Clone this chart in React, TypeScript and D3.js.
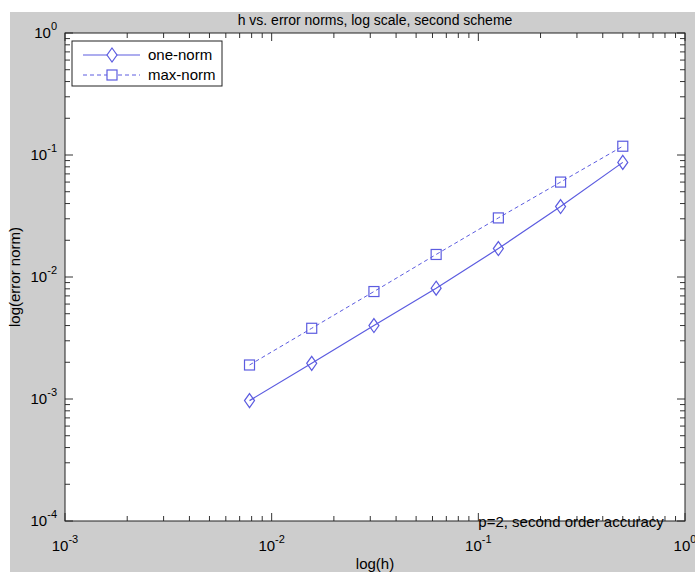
import React from "react";
import * as d3 from "d3";

const hValues = [0.0078125, 0.015625, 0.03125, 0.0625, 0.125, 0.25, 0.5];
const oneNorm = [0.00097, 0.00196, 0.0040, 0.0081, 0.0171, 0.0378, 0.087];
const maxNorm = [0.0019, 0.0038, 0.0076, 0.0153, 0.0305, 0.060, 0.118];
const xDecades = [-3, -2, -1, 0];
const yDecades = [-4, -3, -2, -1, 0];
const titleText = "h vs. error norms, log scale, second scheme";
const xLabel = "log(h)";
const yLabel = "log(error norm)";
const annotation = "p=2, second order accuracy";
const seriesNames = ["one-norm", "max-norm"];

const W = 695;
const H = 572;
const L = 65, R = 685, T = 33, B = 521;
const BLUE = "#5c5ce0";
const FONT = "'Liberation Sans', Arial, Helvetica, sans-serif";

function diamond(x: number, y: number) {
  const hw = 5, hh = 7;
  return `M${x},${y - hh}L${x + hw},${y}L${x},${y + hh}L${x - hw},${y}Z`;
}

export default function App() {
  const x = d3.scaleLog().domain([1e-3, 1]).range([L, R]);
  const y = d3.scaleLog().domain([1e-4, 1]).range([B, T]);

  const line = d3
    .line<[number, number]>()
    .x((d) => x(d[0]))
    .y((d) => y(d[1]));

  const onePts: [number, number][] = hValues.map((h, i) => [h, oneNorm[i]]);
  const maxPts: [number, number][] = hValues.map((h, i) => [h, maxNorm[i]]);

  const ticksX: { v: number; major: boolean }[] = [];
  for (let e = -3; e < 0; e++) for (let k = 1; k <= 9; k++) ticksX.push({ v: k * Math.pow(10, e), major: k === 1 });
  ticksX.push({ v: 1, major: true });
  const ticksY: { v: number; major: boolean }[] = [];
  for (let e = -4; e < 0; e++) for (let k = 1; k <= 9; k++) ticksY.push({ v: k * Math.pow(10, e), major: k === 1 });
  ticksY.push({ v: 1, major: true });

  const tickColor = "#333";
  const len = (m: boolean) => (m ? 8 : 5);

  const legX = 72, legY = 41, legW = 150, legH = 45;

  return (
    <svg
      width={W}
      height={H}
      style={{ position: "absolute", left: 0, top: 0 }}
      fontFamily={FONT}
    >
      <rect x={0} y={0} width={W} height={H} fill="#ffffff" />
      <rect x={10} y={12} width={W - 10} height={H - 12} fill="#cdcdcd" />
      <rect x={L} y={T} width={R - L} height={B - T} fill="#ffffff" />

      {/* ticks */}
      {ticksX.map((t, i) => (
        <g key={"mx" + i} stroke={tickColor} strokeWidth={1}>
          <line x1={x(t.v)} x2={x(t.v)} y1={B} y2={B - len(t.major)} />
          <line x1={x(t.v)} x2={x(t.v)} y1={T} y2={T + len(t.major)} />
        </g>
      ))}
      {ticksY.map((t, i) => (
        <g key={"my" + i} stroke={tickColor} strokeWidth={1}>
          <line x1={L} x2={L + len(t.major)} y1={y(t.v)} y2={y(t.v)} />
          <line x1={R} x2={R - len(t.major)} y1={y(t.v)} y2={y(t.v)} />
        </g>
      ))}

      {/* series */}
      <path d={line(maxPts) || ""} fill="none" stroke={BLUE} strokeWidth={1} strokeDasharray="4,3" />
      <path d={line(onePts) || ""} fill="none" stroke={BLUE} strokeWidth={1.2} />
      {maxPts.map((p, i) => (
        <rect key={"s" + i} x={x(p[0]) - 5} y={y(p[1]) - 5} width={10} height={10} fill="none" stroke={BLUE} strokeWidth={1.2} />
      ))}
      {onePts.map((p, i) => (
        <path key={"d" + i} d={diamond(x(p[0]), y(p[1]))} fill="none" stroke={BLUE} strokeWidth={1.2} />
      ))}

      {/* frame */}
      <rect x={L} y={T} width={R - L} height={B - T} fill="none" stroke="#222" strokeWidth={1} />

      {/* tick labels */}
      {xDecades.map((e) => (
        <text key={"xl" + e} x={x(Math.pow(10, e))} y={551} textAnchor="middle" fontSize={15} fill="#000">
          10
          <tspan dy={-8} fontSize={11}>{e}</tspan>
        </text>
      ))}
      {yDecades.map((e) => (
        <text key={"yl" + e} x={L - 8} y={y(Math.pow(10, e)) + 5} textAnchor="end" fontSize={15} fill="#000">
          10
          <tspan dy={-8} fontSize={11}>{e}</tspan>
        </text>
      ))}

      {/* title & labels */}
      <text x={(L + R) / 2} y={25} textAnchor="middle" fontSize={14} fill="#000">{titleText}</text>
      <text x={(L + R) / 2} y={569} textAnchor="middle" fontSize={15} fill="#000">{xLabel}</text>
      <text transform={`translate(20,${(T + B) / 2}) rotate(-90)`} textAnchor="middle" fontSize={15} fill="#000">{yLabel}</text>
      <text x={x(0.1)} y={527} fontSize={15} fill="#000">{annotation}</text>

      {/* legend */}
      <rect x={legX} y={legY} width={legW} height={legH} fill="#fff" stroke="#222" strokeWidth={1} />
      <line x1={83} x2={140} y1={55} y2={55} stroke={BLUE} strokeWidth={1.2} />
      <path d={diamond(112, 55)} fill="#fff" stroke={BLUE} strokeWidth={1.2} />
      <text x={148} y={60} fontSize={15} fill="#000">{seriesNames[0]}</text>
      <line x1={83} x2={140} y1={75} y2={75} stroke={BLUE} strokeWidth={1} strokeDasharray="4,3" />
      <rect x={107} y={70} width={10} height={10} fill="#fff" stroke={BLUE} strokeWidth={1.2} />
      <text x={148} y={80} fontSize={15} fill="#000">{seriesNames[1]}</text>
    </svg>
  );
}
